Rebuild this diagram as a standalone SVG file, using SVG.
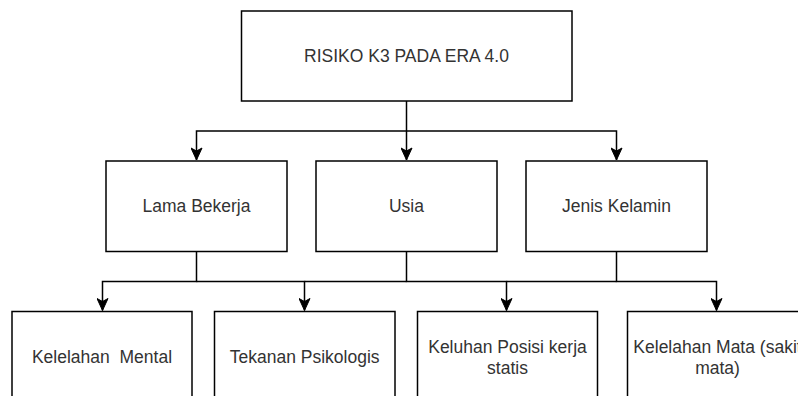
<svg xmlns="http://www.w3.org/2000/svg" width="798" height="396" viewBox="0 0 798 396">
<style>
.box{fill:#fff;stroke:#000;stroke-width:1.5}
.lbl{font-family:"Liberation Sans",Arial,sans-serif;font-size:17.5px;fill:#333;text-anchor:middle;white-space:pre}
.edge{fill:none;stroke:#000;stroke-width:1.5}
</style>
<defs>
<marker id="arr" markerUnits="userSpaceOnUse" markerWidth="14" markerHeight="12" viewBox="0 0 14 12" refX="13" refY="6" orient="auto">
<path d="M1,0.5 L13,6 L1,11.5 L4,6 Z" fill="#000" stroke="#000" stroke-width="1"/>
</marker>
</defs>
<rect width="798" height="396" fill="#fff"/>
<g id="connectors">
<path class="edge" d="M406.5,101 V160" marker-end="url(#arr)"/>
<path class="edge" d="M406.5,131 H196.5 V160" marker-end="url(#arr)"/>
<path class="edge" d="M406.5,131 H616.5 V160" marker-end="url(#arr)"/>
<path class="edge" d="M196.5,251.5 V281.5 H102.5 V310.5" marker-end="url(#arr)"/>
<path class="edge" d="M196.5,281.5 H304.5 V310.5" marker-end="url(#arr)"/>
<path class="edge" d="M406.5,251.5 V281.5 H506.5 V310.5" marker-end="url(#arr)"/>
<path class="edge" d="M616.5,251.5 V281.5 H716.5 V310.5" marker-end="url(#arr)"/>
<path class="edge" d="M304.5,281.5 H406.5"/>
<path class="edge" d="M506.5,281.5 H616.5"/>
</g>
<g id="root">
<rect class="box" x="241.5" y="11" width="330.5" height="90"/>
<text class="lbl" x="406.5" y="62">RISIKO K3 PADA ERA 4.0</text>
</g>
<g id="lama-bekerja">
<rect class="box" x="106" y="161" width="181" height="90.5"/>
<text class="lbl" x="196.5" y="212">Lama Bekerja</text>
</g>
<g id="usia">
<rect class="box" x="316" y="161" width="181" height="90.5"/>
<text class="lbl" x="406.5" y="212">Usia</text>
</g>
<g id="jenis-kelamin">
<rect class="box" x="526" y="161" width="181" height="90.5"/>
<text class="lbl" x="616.5" y="212">Jenis Kelamin</text>
</g>
<g id="kelelahan-mental">
<rect class="box" x="12" y="311.5" width="180" height="90"/>
<text class="lbl" x="102" y="363">Kelelahan  Mental</text>
</g>
<g id="tekanan-psikologis">
<rect class="box" x="214.5" y="311.5" width="180.5" height="90"/>
<text class="lbl" x="304.7" y="363">Tekanan Psikologis</text>
</g>
<g id="keluhan-posisi">
<rect class="box" x="417.5" y="311.5" width="180" height="90"/>
<text class="lbl" x="507.5" y="352.5">Keluhan Posisi kerja</text>
<text class="lbl" x="507.5" y="373.5">statis</text>
</g>
<g id="kelelahan-mata">
<rect class="box" x="627.5" y="311.5" width="180" height="90"/>
<text class="lbl" x="717.5" y="352.5">Kelelahan Mata (sakit</text>
<text class="lbl" x="717.5" y="373.5">mata)</text>
</g>
</svg>
